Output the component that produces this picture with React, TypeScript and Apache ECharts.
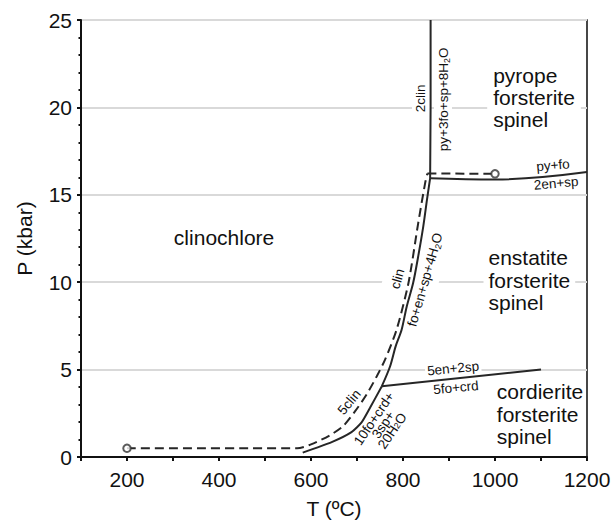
import { useEffect, useRef } from "react";
import * as echarts from "echarts";

const FONT = '"Liberation Sans", Arial, Helvetica, sans-serif';
const INK = "#111";
const LINE = "#262626";

// Axis ranges / tick labels
const xRange = [100, 1200];
const yRange = [0, 25];
const xLabelStep = 200;

// Reaction curves (T in °C, P in kbar)
// 5clin = 10fo+crd+3sp+20H2O
const lowT = [582, 645, 688, 710, 728, 754];
const lowP = [0.25, 0.85, 1.42, 1.98, 2.8, 4.05];
// clin = fo+en+sp+4H2O
const midT = [754, 772, 784, 797, 808, 822, 833, 844, 852, 859];
const midP = [4.05, 5.19, 6.33, 7.28, 8.6, 9.95, 11.47, 13.18, 14.7, 15.95];
// 2clin = py+3fo+sp+8H2O
const highT = [859, 860, 860];
const highP = [15.95, 20, 25];
// py+fo = 2en+sp
const pyT = [859, 1000, 1200];
const pyP = [15.95, 15.88, 16.3];
// 5en+2sp = 5fo+crd
const crdT = [754, 1100];
const crdP = [4.05, 5.0];
// dashed boundary
const dashT = [200, 570, 600, 641, 670, 696, 721, 743, 761, 786, 812, 833, 848, 853];
const dashP = [0.5, 0.5, 0.72, 1.24, 1.77, 2.62, 3.58, 4.62, 5.57, 7.28, 9.97, 13.37, 15.65, 16.22];
const dashTopT = [853, 1000];
const dashTopP = [16.22, 16.2];
// open circles
const circT = [200, 1000];
const circP = [0.5, 16.2];

const pts = (t: number[], p: number[]) => t.map((v, i) => [v, p[i]]);

type Lbl = {
  text: string;
  t: number;
  p: number;
  rot: number;
  size: number;
  align?: string;
  lh?: number;
  pad?: number[];
};

const SUB = "{s|2}";
const labels: Lbl[] = [
  { text: "clinochlore", t: 411, p: 12.53, rot: 0, size: 21 },
  { text: "pyrope\nforsterite\nspinel", t: 983, p: 20.58, rot: 0, size: 21, align: "left", lh: 22, pad: [0, 6] },
  { text: "enstatite\nforsterite\nspinel", t: 975, p: 10.1, rot: 0, size: 21, align: "left", lh: 22.5, pad: [0, 5] },
  { text: "cordierite\nforsterite\nspinel", t: 1004, p: 2.44, rot: 0, size: 21, align: "left", lh: 22.5 },
  { text: "2clin", t: 839, p: 20.52, rot: 90, size: 13.5, pad: [1, 2] },
  { text: "py+3fo+sp+8H" + SUB + "O", t: 887, p: 20.46, rot: 90, size: 13.5, pad: [1, 2] },
  { text: "py+fo", t: 1126, p: 16.69, rot: 5, size: 13.5 },
  { text: "2en+sp", t: 1133, p: 15.66, rot: 5, size: 13.5 },
  { text: "clin", t: 788, p: 10.19, rot: 74, size: 13.5, pad: [6, 2] },
  { text: "fo+en+sp+4H" + SUB + "O", t: 848, p: 10.14, rot: 74, size: 13.5, pad: [6, 2] },
  { text: "5clin", t: 683, p: 3.14, rot: 50, size: 13.5 },
  { text: "10fo+crd+\n3sp+\n20H" + SUB + "O", t: 757, p: 1.85, rot: 56, size: 13.5, lh: 11 },
  { text: "5en+2sp", t: 909, p: 5.06, rot: 5.5, size: 13.5, pad: [0, 2] },
  { text: "5fo+crd", t: 915, p: 3.97, rot: 5.5, size: 13.5 },
];

export default function App() {
  const ref = useRef<HTMLDivElement>(null);

  useEffect(() => {
    if (!ref.current) return;
    const chart = echarts.init(ref.current, undefined, { renderer: "svg" });

    const lineSeries = (t: number[], p: number[], dashed = false, smooth: number | boolean = 0.3) => ({
      type: "line",
      data: pts(t, p),
      showSymbol: false,
      symbol: "none",
      smooth,
      silent: true,
      z: 3,
      lineStyle: { color: LINE, width: 2, type: dashed ? [9, 5] : "solid" },
    });

    chart.setOption({
      animation: false,
      grid: {
        left: 81,
        right: 27,
        top: 20,
        bottom: 66,
        show: true,
        borderColor: "#1a1a1a",
        borderWidth: 1.6,
        backgroundColor: "transparent",
      },
      xAxis: {
        type: "value",
        min: xRange[0],
        max: xRange[1],
        interval: 100,
        name: "T (ºC)",
        nameLocation: "middle",
        nameGap: 41,
        nameTextStyle: { fontSize: 21, color: INK, fontFamily: FONT },
        axisLine: { show: true, onZero: false, lineStyle: { color: INK, width: 2 } },
        axisTick: { show: true, length: 4, lineStyle: { color: INK, width: 2 } },
        axisLabel: {
          fontSize: 21,
          color: INK,
          fontFamily: FONT,
          margin: 12,
          formatter: (v: number) => (v % xLabelStep === 0 ? String(v) : ""),
        },
        splitLine: { show: false },
      },
      yAxis: {
        type: "value",
        min: yRange[0],
        max: yRange[1],
        interval: 5,
        name: "P (kbar)",
        nameLocation: "middle",
        nameGap: 46,
        nameTextStyle: { fontSize: 21, color: INK, fontFamily: FONT },
        axisLine: { show: true, onZero: false, lineStyle: { color: INK, width: 2 } },
        axisTick: { show: true, length: 4, lineStyle: { color: INK, width: 2 } },
        minorTick: { show: true, splitNumber: 5, length: 2.5, lineStyle: { color: INK, width: 2 } },
        axisLabel: { fontSize: 21, color: INK, fontFamily: FONT, margin: 9 },
        splitLine: { show: true, lineStyle: { color: "#d9d9d9", width: 2 } },
      },
      series: [
        lineSeries(lowT, lowP, false, 0.2),
        lineSeries(midT, midP, false, 0.3),
        lineSeries(highT, highP, false, false),
        lineSeries(pyT, pyP, false, 0.4),
        lineSeries(crdT, crdP, false, false),
        lineSeries(dashT, dashP, true, 0.25),
        lineSeries(dashTopT, dashTopP, true, false),
        {
          type: "scatter",
          data: pts(circT, circP),
          symbol: "circle",
          symbolSize: 7.5,
          silent: true,
          z: 5,
          itemStyle: { color: "#fff", borderColor: "#333", borderWidth: 2 },
        },
      ],
    });

    const graphic = labels.map((l) => {
      const [x, y] = chart.convertToPixel({ xAxisIndex: 0, yAxisIndex: 0 }, [l.t, l.p]) as number[];
      const style: any = {
        text: l.text,
        fontSize: l.size,
        fontFamily: FONT,
        fill: INK,
        align: l.align || "center",
        verticalAlign: "middle",
        lineHeight: l.lh || Math.round(l.size * 1.15),
        rich: {
          s: { fontSize: l.size * 0.65, fontFamily: FONT, fill: INK, verticalAlign: "bottom" },
        },
      };
      if (l.pad) {
        style.backgroundColor = "#fff";
        style.padding = l.pad;
      }
      return {
        type: "text",
        x,
        y,
        rotation: (l.rot * Math.PI) / 180,
        z: 1,
        silent: true,
        style,
      };
    });
    chart.setOption({ graphic });

    return () => chart.dispose();
  }, []);

  return (
    <div
      ref={ref}
      style={{ position: "fixed", left: 0, top: 0, width: 614, height: 524, background: "#fff" }}
    />
  );
}
